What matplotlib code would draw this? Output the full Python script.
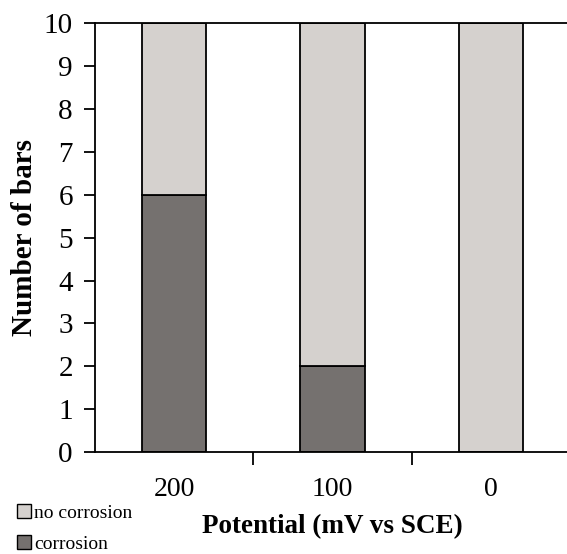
import matplotlib.pyplot as plt
from matplotlib.patches import Patch

potentials = ["200", "100", "0"]
corrosion = [6, 2, 0]
no_corrosion = [4, 8, 10]

plt.rcParams["font.family"] = ["Liberation Serif", "DejaVu Serif"]

fig = plt.figure(figsize=(5.67, 5.54), dpi=100)
ax = fig.add_axes([0.1676, 0.184, 0.8377, 0.774])

dark = "#75716f"
light = "#d5d1ce"
x = list(range(len(potentials)))
ax.bar(x, corrosion, width=0.405, color=dark, edgecolor="black", linewidth=1.3)
ax.bar(x, no_corrosion, width=0.405, bottom=corrosion, color=light,
       edgecolor="black", linewidth=1.3)

ax.set_xlim(-0.5, 2.5)
ax.set_ylim(0, 10)
ax.set_yticks(range(0, 11))
ax.set_xticks(x)
ax.set_xticklabels(potentials)
ax.set_xticks([0.5, 1.5], minor=True)
ax.tick_params(axis="x", which="major", length=0, labelsize=20, pad=18)
ax.tick_params(axis="x", which="minor", length=9, width=1.3, direction="out")
ax.tick_params(axis="y", length=8, width=1.3, labelsize=21, pad=8)

for s in ["left", "bottom", "top"]:
    ax.spines[s].set_linewidth(1.3)
ax.spines["right"].set_visible(False)

ax.set_xlabel("Potential (mV vs SCE)", fontsize=19.5, fontweight="bold", labelpad=9)
ax.set_ylabel("Number of bars", fontsize=21, fontweight="bold", labelpad=4)

handles = [Patch(facecolor=light, edgecolor="black", linewidth=1.0, label="no corrosion"),
           Patch(facecolor=dark, edgecolor="black", linewidth=1.0, label="corrosion")]
fig.legend(handles=handles, loc="lower left", bbox_to_anchor=(0.017, -0.012),
           frameon=False, fontsize=14, handlelength=0.7, handleheight=0.7,
           handletextpad=0.15, labelspacing=0.7, borderaxespad=0.0)

fig.savefig("out.png", dpi=100)
